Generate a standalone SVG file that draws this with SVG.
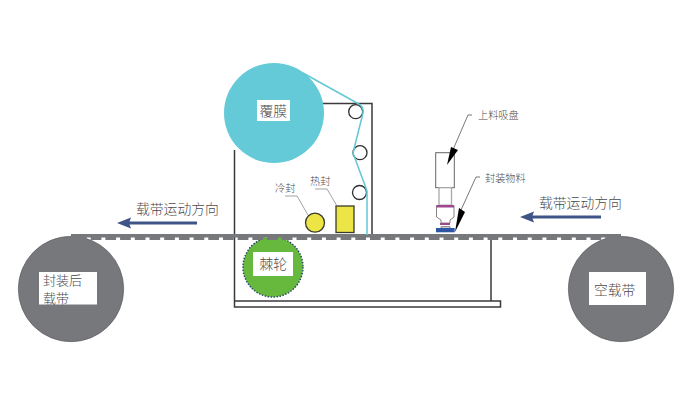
<svg xmlns="http://www.w3.org/2000/svg" width="691" height="403" viewBox="0 0 691 403">
<style>
text{font-family:"Noto Sans CJK SC","Liberation Sans",sans-serif;fill:#4a4a4c;font-weight:300}
.t14{font-size:13.8px}.t13{font-size:13px}.t10{font-size:10.2px}
.frame{fill:none;stroke:#3a3a3c;stroke-width:1.5}
.reel{fill:#77787b;stroke:#55565a;stroke-width:.6}
.lab{fill:#fff}
.lead{fill:none;stroke:#8a8a8a;stroke-width:.8}
.dir{stroke:#3f5487;stroke-width:3;fill:none}
.dirh{fill:#3f5487}
.black{stroke:#555;stroke-width:.8;fill:none}
</style>
<rect width="691" height="403" fill="#fff"/>
<g id="frame">
<path class="frame" d="M234.5 150V301M300 103.5H372V235M491 237V301M234.5 301H500.5V307H234.5Z"/>
</g>
<g id="reel-left"><circle class="reel" cx="71" cy="289" r="52.7"/><rect class="lab" x="39" y="272" width="58" height="32.500"/><text class="t13" x="43" y="284.500">封装后</text><text class="t13" x="43" y="303">载带</text></g>
<g id="reel-right"><circle class="reel" cx="621" cy="289" r="52.7"/><rect class="lab" x="589" y="272" width="57" height="33"/><text class="t14" x="594" y="295">空载带</text></g>
<g id="sprocket"><circle cx="273" cy="267" r="30" fill="#67b93d" stroke="#2c4a6b" stroke-width="1.500" stroke-dasharray="1.500 1.500"/><rect x="260" y="237" width="5" height="5" fill="#67b93d"/><rect x="277" y="237" width="5" height="5" fill="#67b93d"/><rect class="lab" x="253" y="252" width="40" height="24"/><text class="t14" x="259.500" y="269">棘轮</text></g>
<g id="belt"><rect x="71" y="234" width="550" height="3.500" fill="#77787b"/><path d="M76 238.500H620" stroke="#77787b" stroke-width="3" stroke-dasharray="10.700 4" fill="none"/></g>
<g id="film-roll"><circle cx="274" cy="113" r="50" fill="#64cad8"/><rect class="lab" x="257" y="100" width="33" height="21"/><text class="t14" x="259.500" y="116">覆膜</text></g>
<g id="roller-1"><circle cx="355.700" cy="111.700" r="7" fill="#fff" stroke="#2f2f2f" stroke-width="1.300"/></g>
<g id="roller-2"><circle cx="360" cy="152.700" r="7" fill="#fff" stroke="#2f2f2f" stroke-width="1.300"/></g>
<g id="roller-3"><circle cx="359.500" cy="192.500" r="7" fill="#fff" stroke="#2f2f2f" stroke-width="1.300"/></g>
<g id="cold-seal"><circle cx="315" cy="222.700" r="9.500" fill="#ece545" stroke="#3a3a2c" stroke-width="1.300"/><text class="t10" x="275" y="192">冷封</text></g>
<g id="hot-seal"><rect x="336" y="206" width="18" height="26.500" fill="#ece545" stroke="#3a3a2c" stroke-width="1.300"/><text class="t10" x="310" y="185">热封</text></g>
<g id="pick-head">
<rect x="435.700" y="152.700" width="18.600" height="35" fill="#fff" stroke="#666" stroke-width="1"/>
<rect x="439" y="187.700" width="12.500" height="17.500" fill="#fff" stroke="#aaa" stroke-width="1.300"/>
<path d="M436.500 205.500H454V217L450 220V223H441V220L436.500 217Z" fill="#fff" stroke="#777" stroke-width=".9"/>
<rect x="436.500" y="205" width="17.500" height="2.500" fill="#a0488f"/>
<rect x="440" y="223" width="10" height="2" fill="#a0488f"/>
<path d="M441 226.500H450V228H441Z" fill="#fff" stroke="#777" stroke-width=".8"/>
<rect x="436" y="228" width="18.700" height="4.300" fill="#2d56a5"/>
</g>
<g id="connectors">
<path d="M303 73L357 103Q364 106 363 113L353 153L367 191V235" fill="none" stroke="#62c8d6" stroke-width="1.500"/>
<path class="lead" d="M285 196H297L308 215"/>
<path class="lead" d="M315 189H327L337 206"/>
<path class="black" d="M472 115H468L452 152"/>
<path d="M447 165L451 147L458 150Z" fill="#000"/>
<path class="black" d="M480 177H476L461 210"/>
<path d="M455 232L459 208L465 212Z" fill="#000"/>
<path class="dir" d="M129 223H197"/><path class="dirh" d="M117 223L131 217.500L129 223L131 228.500Z"/>
<path class="dir" d="M532 217H601"/><path class="dirh" d="M520 217L534 211.500L532 217L534 222.500Z"/>
</g>
<g id="labels">
<text class="t14" x="136" y="214">载带运动方向</text>
<text class="t14" x="539" y="208">载带运动方向</text>
<text class="t10" x="478" y="119">上料吸盘</text>
<text class="t10" x="485" y="182">封装物料</text>
</g>
</svg>
